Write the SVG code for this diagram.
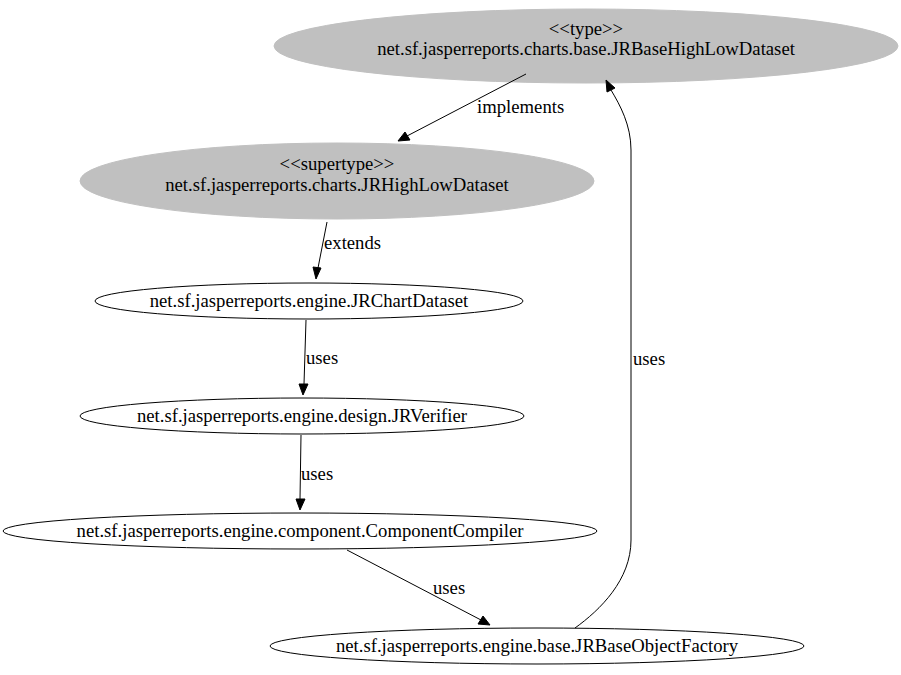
<svg xmlns="http://www.w3.org/2000/svg" width="901" height="675" viewBox="0 0 901 675">
<style>
text{font-family:"Liberation Serif","Times New Roman",serif;font-size:18.7px;fill:#000}
.n text{text-anchor:middle}
.g ellipse{fill:#c0c0c0;stroke:#c0c0c0}
.w ellipse{fill:#fff;stroke:#000;stroke-width:1}
.e path{fill:none;stroke:#000;stroke-width:1}
.e polygon{fill:#000;stroke:#000}
</style>
<rect width="901" height="675" fill="#fff"/>
<g id="n1" class="n g">
<ellipse cx="586" cy="46" rx="312" ry="37"/>
<text x="586" y="35">&lt;&lt;type&gt;&gt;</text>
<text x="586" y="55">net.sf.jasperreports.charts.base.JRBaseHighLowDataset</text>
</g>
<g id="n2" class="n g">
<ellipse cx="337" cy="181" rx="257" ry="38"/>
<text x="337" y="170">&lt;&lt;supertype&gt;&gt;</text>
<text x="337" y="191">net.sf.jasperreports.charts.JRHighLowDataset</text>
</g>
<g id="n3" class="n w">
<ellipse cx="309" cy="301" rx="214" ry="18"/>
<text x="309" y="307">net.sf.jasperreports.engine.JRChartDataset</text>
</g>
<g id="n4" class="n w">
<ellipse cx="302" cy="416" rx="222" ry="18"/>
<text x="302" y="422">net.sf.jasperreports.engine.design.JRVerifier</text>
</g>
<g id="n5" class="n w">
<ellipse cx="300" cy="531" rx="297" ry="18"/>
<text x="300" y="537">net.sf.jasperreports.engine.component.ComponentCompiler</text>
</g>
<g id="n6" class="n w">
<ellipse cx="537" cy="646" rx="267" ry="18"/>
<text x="537" y="652">net.sf.jasperreports.engine.base.JRBaseObjectFactory</text>
</g>
<g id="edges" class="e">
<path d="M526,74 L407,136"/>
<polygon points="410,140 398,141 405,132"/>
<text x="477" y="113">implements</text>
<path d="M327,222 L318,268"/>
<polygon points="313,267 316,279 321,268"/>
<text x="324" y="249">extends</text>
<path d="M306,320 L304,384"/>
<polygon points="299,384 303,395 308,384"/>
<text x="306" y="364">uses</text>
<path d="M301,435 L300,499"/>
<polygon points="296,499 300,510 305,499"/>
<text x="301" y="480">uses</text>
<path d="M347,550 L481,620"/>
<polygon points="478,624 490,625 483,616"/>
<text x="433" y="594">uses</text>
<path d="M575,628 C600,610 631,580 631,540 L631,150 C631,125 620,105 611,90"/>
<polygon points="607,92 606,80 615,88"/>
<text x="633" y="365">uses</text>
</g>
</svg>
